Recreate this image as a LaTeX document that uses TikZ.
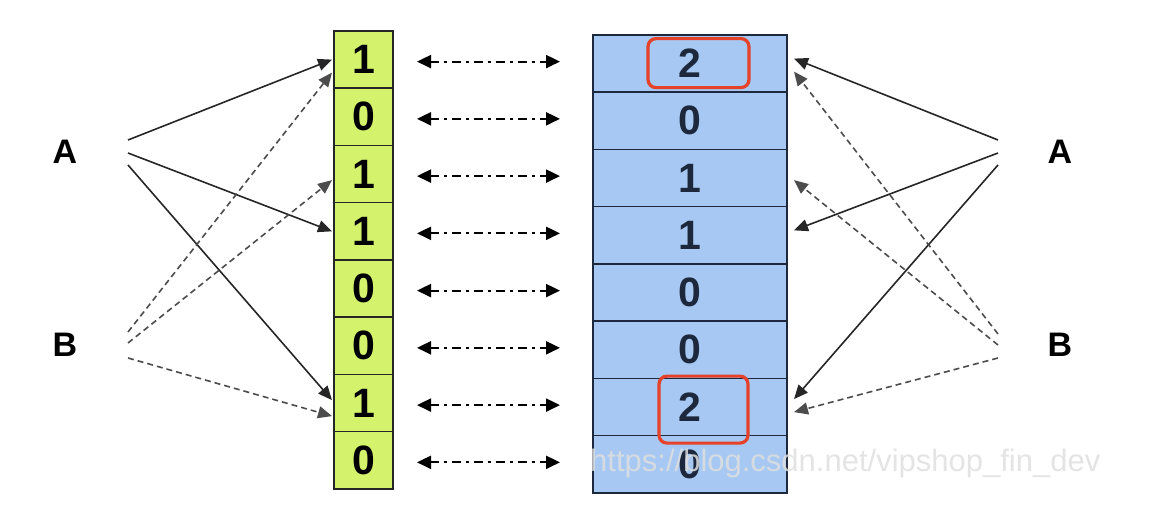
\documentclass[tikz,border=0pt]{standalone}
\usepackage{fontspec}
\setmainfont{Liberation Sans}
\usetikzlibrary{calc,positioning,arrows.meta}
\definecolor{lgreen}{RGB}{212,242,108}
\definecolor{lblue}{RGB}{166,200,242}
\definecolor{navy}{RGB}{30,40,60}
\definecolor{hitred}{RGB}{230,66,42}
\begin{document}
\begin{tikzpicture}[x=1pt, y=-1pt,
                    lcell/.style={draw=black!85, line width=1.5pt, fill=lgreen, outer sep=0pt, inner sep=0pt,
                                  minimum width=59pt, minimum height=57.25pt, font=\bfseries\fontsize{41}{41}\selectfont},
                    rcell/.style={lcell, draw=navy, fill=lblue, minimum width=194pt, text=navy},
                    user/.style={font=\bfseries\fontsize{34}{34}\selectfont},
                    hit/.style={-{Triangle[length=14pt,width=12pt]}, line width=1.6pt, black!85},
                    hitb/.style={hit, black!70, dash pattern=on 6pt off 4pt},
                    sync/.style={{Triangle[length=14pt,width=13pt]}-{Triangle[length=14pt,width=13pt]},
                                 line width=2.2pt, dash pattern=on 9pt off 5pt on 3pt off 5pt},
                    redbox/.style={draw=hitred, line width=3.2pt, rounded corners=8pt},
                ]
    \useasboundingbox (0,0) rectangle (1168,514);

    % the two columns
    \node[lcell] (l1) at (363.5,59.6) {1};
    \foreach \v [count=\i from 2, remember=\i as \j (initially 1)] in {0,1,1,0,0,1,0}
        \node[lcell, below=0pt of l\j] (l\i) {\v};
    \node[rcell] (r1) at (690,63.6) {2};
    \foreach \v [count=\i from 2, remember=\i as \j (initially 1)] in {0,1,1,0,0,2,0}
        \node[rcell, below=0pt of r\j] (r\i) {\v};

    \foreach \i in {1,...,8} {
        \coordinate (m\i) at ($(l\i.east)!0.5!(r\i.west)$);
        \draw[sync] ([xshift=-76pt]m\i) -- ([xshift=67pt]m\i);
    }

    \draw[redbox] ($(r1.center)+(-42,-25)$) rectangle ($(r1.center)+(59,24)$);
    \draw[redbox] ($(r7.center)+(-31,-31)$) rectangle ($(r7.center)+(58,36)$);

    % users
    \node[user] (al) at (65,152) {A};
    \node[user] (bl) at (65,345) {B};
    \node[user] (ar) at (1060,152) {A};
    \node[user] (br) at (1060,345) {B};

    \coordinate (al1) at (128,140); \coordinate (al2) at (128,153); \coordinate (al3) at (128,165);
    \coordinate (bl1) at (128,332); \coordinate (bl2) at (128,343); \coordinate (bl3) at (128,358);
    \coordinate (ar1) at (998,140); \coordinate (ar2) at (998,153); \coordinate (ar3) at (998,165);
    \coordinate (br1) at (998,334); \coordinate (br2) at (998,345); \coordinate (br3) at (998,358);

    \draw[hit] (al1) -- ([xshift=-2pt]l1.west);
    \draw[hit] (al2) -- ([xshift=-2pt]l4.west);
    \draw[hit] (al3) -- ([xshift=-2pt,yshift=3pt]l7.west);
    \draw[hitb] (bl1) -- ([xshift=-2pt,yshift=-13pt]l1.west);
    \draw[hitb] (bl2) -- ([xshift=-2pt,yshift=-6pt]l3.west);
    \draw[hitb] (bl3) -- ([xshift=-2pt,yshift=-13pt]l7.west);

    \draw[hit] (ar1) -- ([xshift=7pt,yshift=5pt]r1.east);
    \draw[hit] (ar2) -- ([xshift=7pt,yshift=5pt]r4.east);
    \draw[hit] (ar3) -- ([xshift=7pt,yshift=8pt]r7.east);
    \draw[hitb] (br1) -- ([xshift=7pt,yshift=-8pt]r1.east);
    \draw[hitb] (br2) -- ([xshift=7pt,yshift=-2pt]r3.east);
    \draw[hitb] (br3) -- ([xshift=7pt,yshift=-5pt]r7.east);

    \node[anchor=base west, inner sep=0pt, text=gray!25, opacity=0.85, font=\fontsize{31}{31}\selectfont]
        (wm) at (590,471) {https://blog.csdn.net/vipshop\_fin\_dev};
\end{tikzpicture}
\end{document}
